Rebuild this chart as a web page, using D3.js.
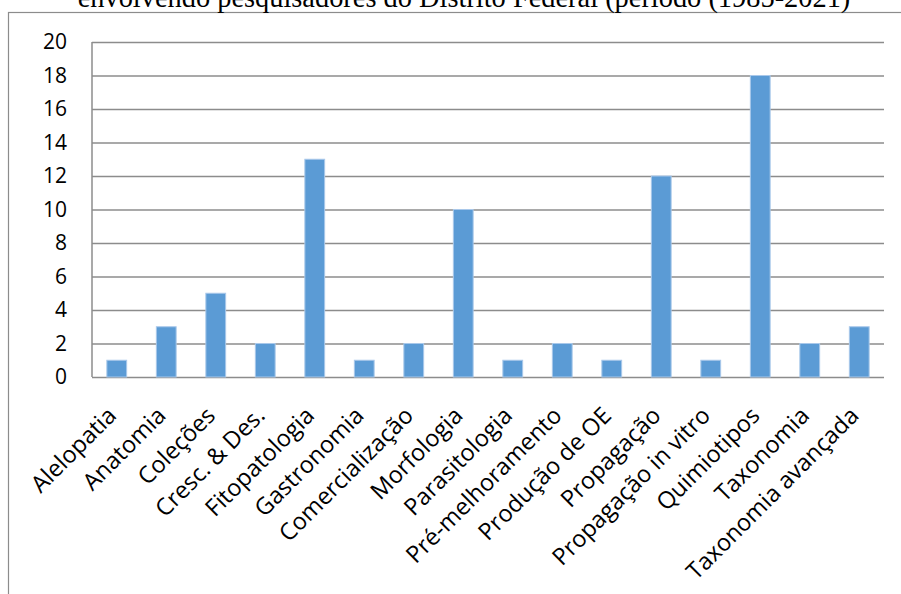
<!DOCTYPE html>
<html>
<head>
<meta charset="utf-8">
<style>
    body { margin: 0; background: #fff; }
    svg { display: block; }
    .title { font-family: "Liberation Serif", "Times New Roman", serif; font-size: 28.4px; fill: #000; }
    .y .tick text { font-family: "Open Sans", sans-serif; font-size: 21px; fill: #000; }
    .x .tick text { font-family: "Open Sans", sans-serif; font-size: 23.5px; fill: #000; }
    .y .tick line { stroke: #8c8c8c; stroke-width: 1.5; }
    .x .tick line { display: none; }
    .domain { display: none; }
</style>
</head>
<body>
<svg width="901" height="594"></svg>
<script src="https://cdn.jsdelivr.net/npm/d3@7"></script>
<script>

let categories = [
    "Alelopatia", "Anatomia", "Coleções", "Cresc. & Des.", "Fitopatologia",
    "Gastronomia", "Comercialização", "Morfologia", "Parasitologia",
    "Pré-melhoramento", "Produção de OE", "Propagação", "Propagação in vitro",
    "Quimiotipos", "Taxonomia", "Taxonomia avançada"
]
let counts = [1, 3, 5, 2, 13, 1, 2, 10, 1, 2, 1, 12, 1, 18, 2, 3]
let yTicks = [0, 2, 4, 6, 8, 10, 12, 14, 16, 18, 20]
let title = "envolvendo pesquisadores do Distrito Federal (período (1985-2021)"

let margin = { top: 42, right: 17, bottom: 217, left: 92 }
let width = 901
let height = 594

let svg = d3.select("svg")

// outer chart border (only left + top visible in the crop)
svg.append("rect")
    .attr("x", 8.5)
    .attr("y", 12.5)
    .attr("width", 1000)
    .attr("height", 1000)
    .attr("fill", "none")
    .attr("stroke", "#8c8c8c")
    .attr("stroke-width", 1.2)

svg.append("text")
    .attr("class", "title")
    .attr("x", 464)
    .attr("y", 7)
    .attr("text-anchor", "middle")
    .text(title)

let x = d3.scaleBand()
    .domain(categories)
    .range([margin.left, width - margin.right])
    .paddingInner(0.6)
    .paddingOuter(0.3)

let y = d3.scaleLinear()
    .domain([0, 20])
    .range([height - margin.bottom, margin.top])

let yAxis = svg.append("g")
    .attr("class", "y axis")
    .attr("transform", `translate(${margin.left}, 0)`)
    .call(d3.axisLeft(y)
        .tickValues(yTicks)
        .tickSize(-(width - margin.right - margin.left))
        .tickPadding(25))

// left vertical axis line
svg.append("line")
    .attr("x1", margin.left)
    .attr("x2", margin.left)
    .attr("y1", y(20))
    .attr("y2", y(0))
    .attr("stroke", "#8c8c8c")
    .attr("stroke-width", 1.5)

svg.append("g")
    .selectAll("rect")
    .data(categories)
    .join("rect")
    .attr("x", d => x(d))
    .attr("y", (d, i) => y(counts[i]))
    .attr("width", x.bandwidth())
    .attr("height", (d, i) => y(0) - y(counts[i]))
    .attr("fill", "#5b9bd5")
    .attr("stroke", "#a9c8ea")
    .attr("stroke-width", 1)

let xAxis = svg.append("g")
    .attr("class", "x axis")
    .attr("transform", `translate(0, ${y(0)})`)
    .call(d3.axisBottom(x).tickSize(0).tickPadding(0))

xAxis.selectAll(".tick text")
    .attr("text-anchor", "end")
    .attr("dy", 0)
    .attr("transform", "translate(1, 40) rotate(-45)")

</script>
</body>
</html>
